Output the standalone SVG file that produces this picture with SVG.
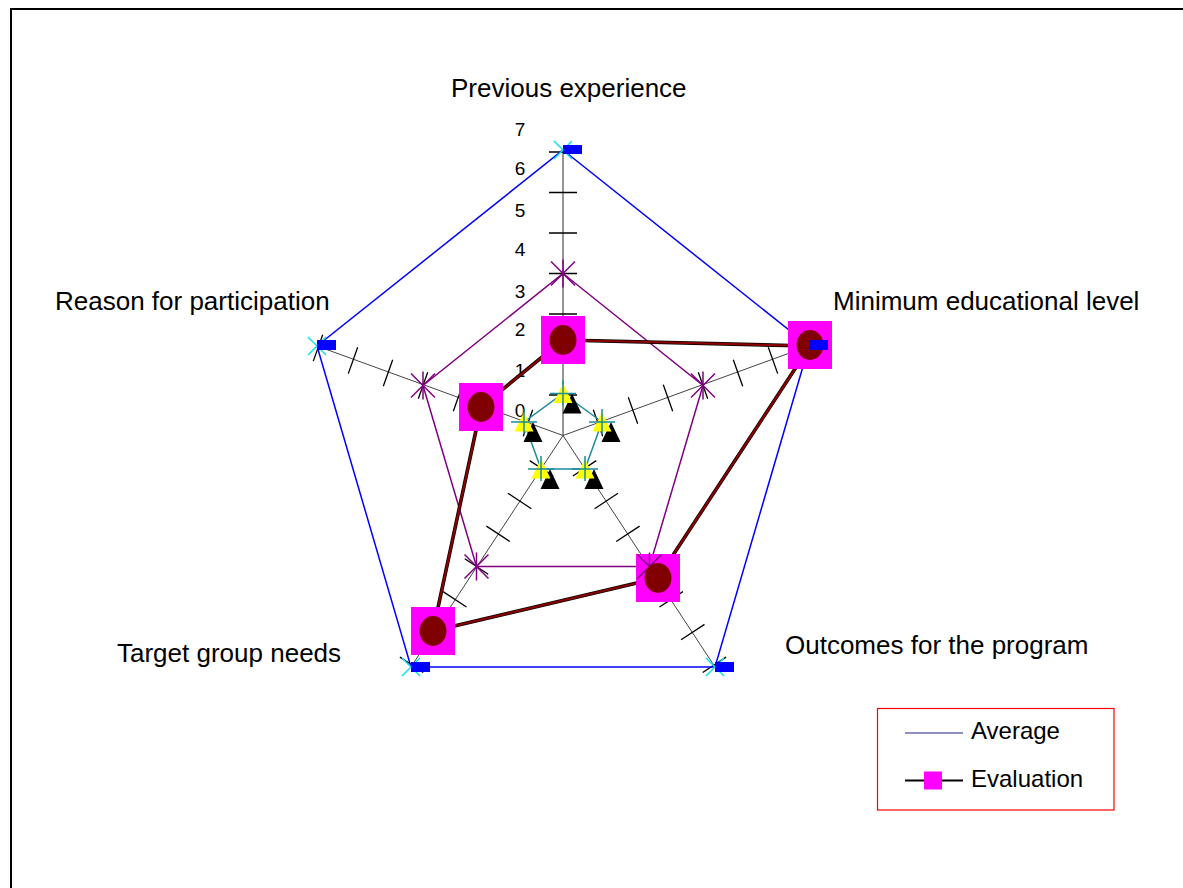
<svg xmlns="http://www.w3.org/2000/svg" width="1183" height="888" viewBox="0 0 1183 888">
<defs>
<style>
.lbl{font-family:"Liberation Sans",Arial,Helvetica,sans-serif;font-size:26px;fill:#000}
.num{font-family:"Liberation Sans",Arial,Helvetica,sans-serif;font-size:19px;fill:#000;text-anchor:middle}
.leg{font-family:"Liberation Sans",Arial,Helvetica,sans-serif;font-size:24px;fill:#000}
.axis{stroke:#444;stroke-width:1;fill:none}
.tick{stroke:#000;stroke-width:1.3}
.blue{stroke:#0000ff;stroke-width:1.5;fill:none}
.purple{stroke:#800080;stroke-width:1.5;fill:none}
.teal{stroke:#1a8c9c;stroke-width:1.5;fill:none}
.evalo{stroke:#000;stroke-width:3.6;fill:none;stroke-linejoin:round}
.evali{stroke:#8b0000;stroke-width:2.2;fill:none;stroke-linejoin:round}
.cx{stroke:#10e0f0;stroke-width:1.5}
.sq{fill:#ff00ff}
.dot{fill:#800000}
.brect{fill:#0000ff}
.ytri{fill:#ffff00}
.ktri{fill:#000}
</style>
<g id="star"><path d="M0,-14V14M-12,-12L12,12M-12,12L12,-12" stroke="#800080" stroke-width="1.5"/></g>
<g id="xmark"><path d="M-9,-9L9,9M-9,9L9,-9" class="cx"/></g>
<g id="emark"><rect x="-22" y="-24" width="44" height="48" class="sq"/></g>
<g id="edot"><ellipse rx="13.5" ry="15" class="dot"/></g>
<g id="tri"><path d="M9,0L18.5,20H-0.5Z" class="ktri"/><path d="M0,-10L9.5,9.5H-9.5Z" class="ytri"/><path d="M-13,0H13M0,-13V12" stroke="#1a8c9c" stroke-width="1.5"/></g>
</defs>
<rect width="1183" height="888" fill="#fff"/>
<path d="M11,888V9H1183" stroke="#000" stroke-width="2" fill="none"/>

<g id="axes">
<line x1="563" y1="435.5" x2="563" y2="150" stroke="#8a8a8a" stroke-width="1.8"/>
<line x1="563" y1="435.5" x2="809" y2="346" class="axis"/>
<line x1="563" y1="435.5" x2="715" y2="667" class="axis"/>
<line x1="563" y1="435.5" x2="411" y2="667" class="axis"/>
<line x1="563" y1="435.5" x2="317" y2="346" class="axis"/>
</g>
<g id="ticks" class="tick">
<path d="M549,395H577M549,354.5H577M549,314H577M549,273.5H577M549,233H577M549,192.5H577M549,152H577"/>
<path d="M593.3,409.8L602.7,436.2M628.3,397.3L637.7,423.7M663.3,384.8L672.7,411.2M698.3,372.3L707.7,398.7M733.3,359.8L742.7,386.2M768.3,347.2L777.7,373.6M803.3,334.7L812.7,361.1"/>
<path d="M572.9,476L596.3,460.6M594.6,508.7L618,493.3M616.2,541.5L639.6,526.1M637.8,574.2L661.2,558.8M659.5,607L682.9,591.6M681.1,639.8L704.5,624.4M702.7,672.5L726.1,657.1"/>
<path d="M529.7,460.6L553.1,476M508,493.3L531.4,508.7M486.4,526.1L509.8,541.5M464.8,558.8L488.2,574.2M443.1,591.6L466.5,607M421.5,624.4L444.9,639.8M399.9,657.1L423.3,672.5"/>
<path d="M532.7,409.8L523.3,436.2M497.7,397.3L488.3,423.7M462.7,384.8L453.3,411.2M427.7,372.3L418.3,398.7M392.7,359.8L383.3,386.2M357.7,347.2L348.3,373.6M322.7,334.7L313.3,361.1"/>
</g>
<g id="scale">
<text class="num" x="520" y="136">7</text>
<text class="num" x="520" y="175">6</text>
<text class="num" x="520" y="217">5</text>
<text class="num" x="520" y="256">4</text>
<text class="num" x="520" y="298">3</text>
<text class="num" x="520" y="336">2</text>
<text class="num" x="520" y="377">1</text>
<text class="num" x="520" y="417">0</text>
</g>

<g id="connectors">
<polygon class="blue" points="563,150 809,346 715,667 411,667 317,346"/>
<polygon class="purple" points="563,273.5 703,385.5 649.5,566.5 476.5,566.5 423,385.5"/>
<polygon class="evalo" points="563,340 810,346 658,578 433,631 481,407"/>
<polygon class="evali" points="563,340 810,346 658,578 433,631 481,407"/>
<polygon class="teal" points="563,393.5 602,422 585,469 541,469 524,422"/>
</g>

<g id="average-x">
<use href="#xmark" x="563" y="150"/>
<use href="#xmark" x="809" y="346"/>
<use href="#xmark" x="715" y="667"/>
<use href="#xmark" x="411" y="667"/>
<use href="#xmark" x="317" y="346"/>
</g>
<g id="eval-squares">
<use href="#emark" x="563" y="340"/>
<use href="#emark" x="810" y="345"/>
<use href="#emark" x="658" y="578"/>
<use href="#emark" x="433" y="631"/>
<use href="#emark" x="481" y="407"/>
</g>
<g id="purple-stars">
<use href="#star" x="563" y="273.5"/>
<use href="#star" x="703" y="385.5"/>
<use href="#star" x="649.5" y="566.5"/>
<use href="#star" x="476.5" y="566.5"/>
<use href="#star" x="423" y="385.5"/>
</g>
<g id="eval-dots">
<use href="#edot" x="563" y="340"/>
<use href="#edot" x="810" y="345"/>
<use href="#edot" x="658" y="578"/>
<use href="#edot" x="433" y="631"/>
<use href="#edot" x="481" y="407"/>
</g>
<g id="blue-rects" class="brect">
<rect x="563" y="145" width="19" height="9"/>
<rect x="809" y="340" width="19" height="10"/>
<rect x="715" y="662" width="19" height="10"/>
<rect x="411" y="662" width="19" height="10"/>
<rect x="317" y="340" width="19" height="10"/>
</g>
<g id="inner-markers">
<use href="#tri" x="563" y="393.5"/>
<use href="#tri" x="602" y="422"/>
<use href="#tri" x="585" y="469"/>
<use href="#tri" x="541" y="469"/>
<use href="#tri" x="524" y="422"/>
</g>

<g id="labels">
<text class="lbl" x="451" y="97">Previous experience</text>
<text class="lbl" x="833" y="310">Minimum educational level</text>
<text class="lbl" x="55" y="310">Reason for participation</text>
<text class="lbl" x="785" y="654">Outcomes for the program</text>
<text class="lbl" x="117" y="662">Target group needs</text>
</g>

<g id="legend">
<rect x="877.5" y="708.5" width="236.5" height="101.5" fill="#fff" stroke="#ff0000" stroke-width="1.2"/>
<line x1="905" y1="733" x2="963" y2="733" stroke="#6b6bb5" stroke-width="1.5"/>
<text class="leg" x="971" y="739">Average</text>
<line x1="905" y1="780.5" x2="963" y2="780.5" stroke="#000" stroke-width="2"/>
<rect x="924" y="771.5" width="18" height="18" fill="#ff00ff"/>
<text class="leg" x="971" y="787">Evaluation</text>
</g>
</svg>
